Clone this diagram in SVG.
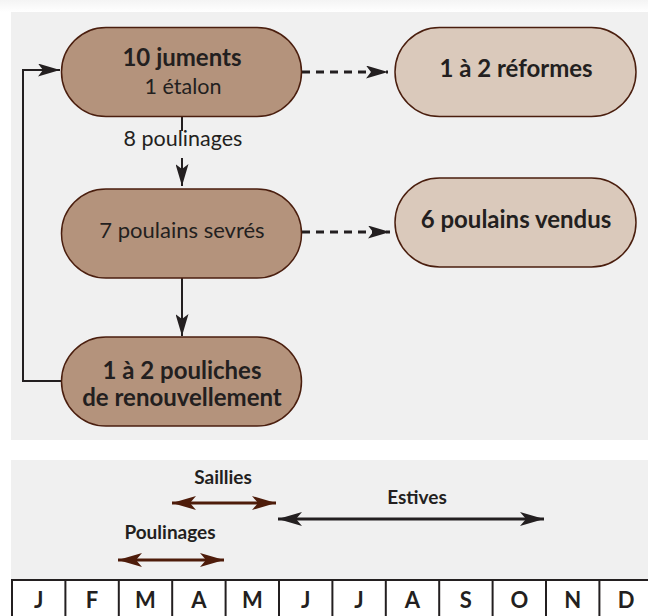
<svg xmlns="http://www.w3.org/2000/svg" width="648" height="616" viewBox="0 0 648 616">
  <style>
    .t { font-family: Lato, "Liberation Sans", sans-serif; fill: #231f20; text-anchor: middle; }
    .b { font-weight: bold; }
    .dark { fill: #b4937c; stroke: #4a1e0e; stroke-width: 1.5; }
    .light { fill: #dac9bb; stroke: #4a1e0e; stroke-width: 1.5; }
    .con { fill: none; stroke: #231f20; stroke-width: 2; }
    .dash { fill: none; stroke: #231f20; stroke-width: 3; stroke-dasharray: 8 6; }
    .cell { fill: none; stroke: #231f20; stroke-width: 2; }
    .m { font-family: Lato, "Liberation Sans", sans-serif; font-weight: bold; font-size: 22px; fill: #231f20; text-anchor: middle; }
  </style>
  <defs>
    <linearGradient id="shade" x1="0" y1="0" x2="0" y2="1">
      <stop offset="0" stop-color="#f4f4f4"/>
      <stop offset="1" stop-color="#ffffff"/>
    </linearGradient>
    <marker id="ah" markerUnits="userSpaceOnUse" markerWidth="24" markerHeight="13" refX="22" refY="6.5" orient="auto">
      <path d="M0,0 L22,6.5 L0,13 L5,6.5 z" fill="#231f20"/>
    </marker>
    <marker id="ahb" markerUnits="userSpaceOnUse" markerWidth="26" markerHeight="14" refX="24" refY="7" orient="auto-start-reverse">
      <path d="M0,0 L24,7 L0,14 L6,7 z" fill="#231f20"/>
    </marker>
    <marker id="ahr" markerUnits="userSpaceOnUse" markerWidth="26" markerHeight="14" refX="24" refY="7" orient="auto-start-reverse">
      <path d="M0,0 L24,7 L0,14 L6,7 z" fill="#4e1c0a"/>
    </marker>
  </defs>

  <rect x="0" y="0" width="648" height="616" fill="#ffffff"/>
  <rect x="0" y="0" width="648" height="12" fill="url(#shade)"/>
  <rect x="11" y="12" width="637" height="428" fill="#f0f0f0"/>
  <rect x="11" y="460" width="637" height="156" fill="#f0f0f0"/>

  <g id="connectors">
    <line class="dash" x1="302" y1="72" x2="388" y2="72" marker-end="url(#ah)"/>
    <line class="dash" x1="302" y1="232" x2="390" y2="232" marker-end="url(#ah)"/>
    <line class="con" x1="182" y1="116" x2="182" y2="131"/>
    <line class="con" x1="182" y1="158" x2="182" y2="186" marker-end="url(#ah)"/>
    <line class="con" x1="182" y1="278" x2="182" y2="336" marker-end="url(#ah)"/>
    <polyline class="con" points="61,381 23,381 23,70 60,70" marker-end="url(#ah)"/>
    <text class="t" x="183" y="146" font-size="21.5">8 poulinages</text>
  </g>

  <g id="n-juments">
    <rect class="dark" x="61.5" y="27.5" width="240" height="89" rx="44.5"/>
    <text class="t b" x="182" y="66" font-size="24">10 juments</text>
    <text class="t" x="183" y="94" font-size="21.5">1 étalon</text>
  </g>
  <g id="n-reformes">
    <rect class="light" x="395" y="27.5" width="241" height="89" rx="44.5"/>
    <text class="t b" x="516" y="77" font-size="24">1 à 2 réformes</text>
  </g>
  <g id="n-sevres">
    <rect class="dark" x="61.5" y="189" width="240" height="89" rx="44.5"/>
    <text class="t" x="182" y="238" font-size="22">7 poulains sevrés</text>
  </g>
  <g id="n-vendus">
    <rect class="light" x="395" y="178" width="241" height="89" rx="44.5"/>
    <text class="t b" x="516" y="228" font-size="24">6 poulains vendus</text>
  </g>
  <g id="n-pouliches">
    <rect class="dark" x="61.5" y="337" width="240" height="89" rx="44.5"/>
    <text class="t b" x="182" y="379" font-size="24">1 à 2 pouliches</text>
    <text class="t b" x="182" y="406" font-size="24">de renouvellement</text>
  </g>

  <g id="calendar">
    <text class="t b" x="223" y="484" font-size="19">Saillies</text>
    <line x1="172" y1="503" x2="276" y2="503" stroke="#4e1c0a" stroke-width="3" marker-start="url(#ahr)" marker-end="url(#ahr)"/>
    <text class="t b" x="417" y="504" font-size="19">Estives</text>
    <line x1="278" y1="519" x2="544" y2="519" stroke="#231f20" stroke-width="3" marker-start="url(#ahb)" marker-end="url(#ahb)"/>
    <text class="t b" x="170" y="539" font-size="19">Poulinages</text>
    <line x1="118" y1="560" x2="224" y2="560" stroke="#4e1c0a" stroke-width="3" marker-start="url(#ahr)" marker-end="url(#ahr)"/>

    <rect x="12" y="580" width="650" height="40" fill="#ffffff" stroke="#231f20" stroke-width="2"/>
    <g class="cell">
      <line x1="65.4" y1="580" x2="65.4" y2="616"/>
      <line x1="118.8" y1="580" x2="118.8" y2="616"/>
      <line x1="172.2" y1="580" x2="172.2" y2="616"/>
      <line x1="225.6" y1="580" x2="225.6" y2="616"/>
      <line x1="279" y1="580" x2="279" y2="616"/>
      <line x1="332.4" y1="580" x2="332.4" y2="616"/>
      <line x1="385.8" y1="580" x2="385.8" y2="616"/>
      <line x1="439.2" y1="580" x2="439.2" y2="616"/>
      <line x1="492.6" y1="580" x2="492.6" y2="616"/>
      <line x1="546" y1="580" x2="546" y2="616"/>
      <line x1="599.4" y1="580" x2="599.4" y2="616"/>
    </g>
    <text class="m" x="38.7" y="608">J</text>
    <text class="m" x="92.1" y="608">F</text>
    <text class="m" x="145.5" y="608">M</text>
    <text class="m" x="198.9" y="608">A</text>
    <text class="m" x="252.3" y="608">M</text>
    <text class="m" x="305.7" y="608">J</text>
    <text class="m" x="359.1" y="608">J</text>
    <text class="m" x="412.5" y="608">A</text>
    <text class="m" x="465.9" y="608">S</text>
    <text class="m" x="519.3" y="608">O</text>
    <text class="m" x="572.7" y="608">N</text>
    <text class="m" x="626.1" y="608">D</text>
  </g>
</svg>
